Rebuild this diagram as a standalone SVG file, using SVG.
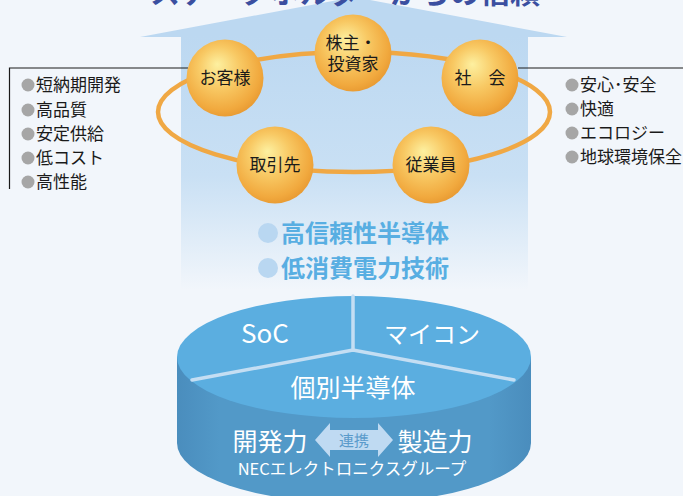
<svg xmlns="http://www.w3.org/2000/svg" width="683" height="496" viewBox="0 0 683 496">
  <style>
    .jp { font-family: "Noto Sans CJK JP", "Noto Sans", sans-serif; }
    .ball-label { font-family: "Noto Sans CJK JP", sans-serif; font-size: 17px; fill: #1a1a1a; text-anchor: middle; }
    .list { font-family: "Noto Sans CJK JP", sans-serif; font-size: 17px; fill: #1a1a1a; }
    .dot { fill: #a6a6a6; }
    .tech { font-family: "Noto Sans CJK JP", sans-serif; font-size: 24px; font-weight: bold; fill: #58aee2; }
    .disk-label { font-family: "Noto Sans CJK JP", sans-serif; fill: #ffffff; text-anchor: middle; }
    .bracket { fill: none; stroke: #1a1a1a; stroke-width: 1.2; }
    .divider { stroke: #c4def3; stroke-width: 3.5; fill: none; stroke-linecap: round; }
  </style>
  <defs>
    <linearGradient id="shaftGrad" x1="0" y1="0" x2="0" y2="1">
      <stop offset="0" stop-color="#bcd8f1"/>
      <stop offset="0.55" stop-color="#c9e0f4"/>
      <stop offset="1" stop-color="#f2f6fb"/>
    </linearGradient>
    <radialGradient id="ballGrad" cx="0.45" cy="0.42" r="0.6" fx="0.4" fy="0.32">
      <stop offset="0" stop-color="#fdf0a0"/>
      <stop offset="0.45" stop-color="#f8c964"/>
      <stop offset="0.85" stop-color="#f1a93e"/>
      <stop offset="1" stop-color="#e89a32"/>
    </radialGradient>
    <linearGradient id="sideGrad" x1="0" y1="0" x2="1" y2="0">
      <stop offset="0" stop-color="#4a8dbd"/>
      <stop offset="0.12" stop-color="#5299c8"/>
      <stop offset="0.88" stop-color="#5299c8"/>
      <stop offset="1" stop-color="#4a8dbd"/>
    </linearGradient>
  </defs>

  <!-- background -->
  <rect x="0" y="0" width="683" height="496" fill="#f2f6fb"/>

  <!-- big upward arrow -->
  <g id="arrow">
    <polygon points="140,37 354,-3 567,37" fill="#bcd8f1"/>
    <rect x="181" y="36" width="347" height="254" fill="url(#shaftGrad)"/>
  </g>

  <!-- title (runs off the top edge) -->
  <text class="jp" x="150" y="3" font-size="30" font-weight="bold" fill="#3b4fa0">ステークホルダーからの信頼</text>

  <!-- connectors: bracket lines and stakeholder ring -->
  <g id="connectors">
    <polyline class="bracket" points="188,68 9.5,68 9.5,189"/>
    <line class="bracket" x1="518" y1="68" x2="683" y2="68"/>
    <ellipse cx="354" cy="112" rx="196" ry="60" fill="none" stroke="#f0a844" stroke-width="4.5"/>
  </g>

  <!-- stakeholder nodes -->
  <g id="shareholders">
    <circle cx="353" cy="53" r="38.5" fill="url(#ballGrad)"/>
    <text class="ball-label" x="351" y="49">株主・</text>
    <text class="ball-label" x="353" y="70">投資家</text>
  </g>
  <g id="customers">
    <circle cx="225" cy="78" r="38.5" fill="url(#ballGrad)"/>
    <text class="ball-label" x="225" y="84">お客様</text>
  </g>
  <g id="society">
    <circle cx="480" cy="78" r="38.5" fill="url(#ballGrad)"/>
    <text class="ball-label" x="480" y="84" xml:space="preserve">社　会</text>
  </g>
  <g id="partners">
    <circle cx="275" cy="165" r="38.5" fill="url(#ballGrad)"/>
    <text class="ball-label" x="275" y="171">取引先</text>
  </g>
  <g id="employees">
    <circle cx="431" cy="165" r="38.5" fill="url(#ballGrad)"/>
    <text class="ball-label" x="431" y="171">従業員</text>
  </g>

  <!-- customer values -->
  <g id="customer-values">
    <circle class="dot" cx="28" cy="85" r="6.5"/><text class="list" x="36" y="91">短納期開発</text>
    <circle class="dot" cx="28" cy="110" r="6.5"/><text class="list" x="36" y="116">高品質</text>
    <circle class="dot" cx="28" cy="134" r="6.5"/><text class="list" x="36" y="140">安定供給</text>
    <circle class="dot" cx="28" cy="158" r="6.5"/><text class="list" x="36" y="164">低コスト</text>
    <circle class="dot" cx="28" cy="182" r="6.5"/><text class="list" x="36" y="188">高性能</text>
  </g>

  <!-- society values -->
  <g id="society-values">
    <circle class="dot" cx="572" cy="85" r="6.5"/><text class="list" x="580" y="91">安心･安全</text>
    <circle class="dot" cx="572" cy="109" r="6.5"/><text class="list" x="580" y="115">快適</text>
    <circle class="dot" cx="572" cy="133" r="6.5"/><text class="list" x="580" y="139">エコロジー</text>
    <circle class="dot" cx="572" cy="157" r="6.5"/><text class="list" x="580" y="163">地球環境保全</text>
  </g>

  <!-- key technologies -->
  <g id="technologies">
    <circle cx="268" cy="233" r="10" fill="#b9d7f1"/>
    <text class="tech" x="281" y="242">高信頼性半導体</text>
    <circle cx="268" cy="268" r="10" fill="#b9d7f1"/>
    <text class="tech" x="281" y="277">低消費電力技術</text>
  </g>

  <!-- product base cylinder -->
  <g id="base">
    <path d="M177,357 L177,443 A177,60 0 0 0 531,443 L531,357 Z" fill="url(#sideGrad)"/>
    <ellipse cx="354" cy="357" rx="177" ry="61" fill="#5baee0"/>
    <polyline class="divider" points="192,380 353,350 514,380"/>
    <line class="divider" x1="353" y1="296" x2="353" y2="350"/>
    <text class="disk-label" x="265" y="343" font-size="26">SoC</text>
    <text class="disk-label" x="432" y="343" font-size="24">マイコン</text>
    <text class="disk-label" x="353" y="397" font-size="25">個別半導体</text>
    <text class="disk-label" x="270" y="451" font-size="25">開発力</text>
    <text class="disk-label" x="435" y="451" font-size="25">製造力</text>
    <polygon points="315,440 330,423 330,430 378,430 378,423 393,440 378,457 378,450 330,450 330,457" fill="#bfdaf2"/>
    <text class="jp" x="354" y="446" font-size="15" fill="#5a9bcb" text-anchor="middle">連携</text>
    <text class="disk-label" x="352" y="475" font-size="16.5">NECエレクトロニクスグループ</text>
  </g>
</svg>
